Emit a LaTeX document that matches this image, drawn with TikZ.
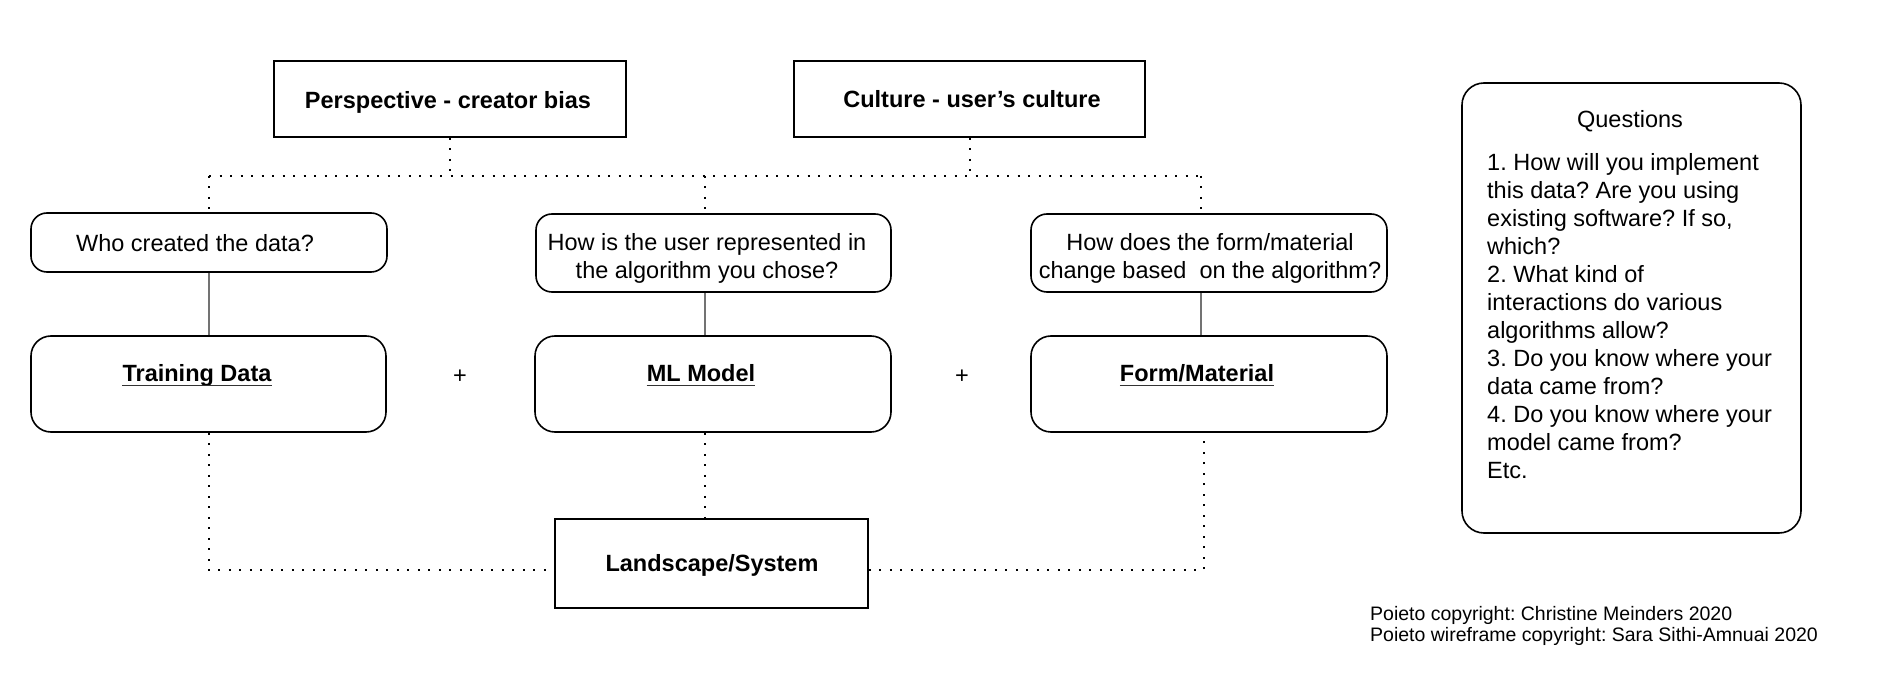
\documentclass[tikz,border=0pt]{standalone}
\usepackage{fontspec}
\setmainfont{Liberation Sans}
\frenchspacing
\begin{document}
\begin{tikzpicture}[x=1pt,y=-1pt,
  frame/.style={draw=black, line width=1.6pt, inner sep=0pt},
  sqbox/.style={frame},
  rbox/.style={frame, rounded corners=16pt},
  mbox/.style={frame, rounded corners=20pt},
  txt/.style={font=\fontsize{23.5}{28}\selectfont, inner sep=0pt, text=black},
  btxt/.style={font=\fontsize{23.5}{28}\selectfont\bfseries, inner sep=0pt, text=black},
  ctxt/.style={font=\fontsize{19.5}{21.5}\selectfont, inner sep=0pt, text=black},
  dotline/.style={line width=2pt, dash pattern=on 2pt off 8.5pt},
  solidline/.style={draw=black!55, line width=1.6pt},
  ul/.style={draw=black!80, line width=1.4pt},
]
\fill[white] (0,0) rectangle (1883,692);
\useasboundingbox (0,0) rectangle (1883,692);

% top boxes
\node[sqbox, minimum width=352pt, minimum height=76pt] (persp) at (450,99) {};
\node[btxt, anchor=base] (persptxt) at (448,109) {Perspective - creator bias};
\node[sqbox, minimum width=351pt, minimum height=76pt] (cult) at (969.5,99) {};
\node[btxt, anchor=base] (culttxt) at (972,108) {Culture - user’s culture};

% question boxes
\node[rbox, minimum width=356pt, minimum height=59pt] (qwho) at (209,242.5) {};
\node[txt, anchor=base] (qwhotxt) at (195,251.5) {Who created the data?};
\node[rbox, minimum width=355pt, minimum height=78pt] (quser) at (713.5,253) {};
\node[txt, align=center] (qusertxt) at (707,258.5) {How is the user represented in\\the algorithm you chose?};
\node[rbox, minimum width=356pt, minimum height=78pt] (qform) at (1209,253) {};
\node[txt, align=center] (qformtxt) at (1210,258.5) {How does the form/material\\change based\ \ on the algorithm?};

% main boxes
\node[mbox, minimum width=355pt, minimum height=96pt] (train) at (208.5,384) {};
\node[btxt, anchor=base] (traintxt) at (197,382) {Training Data};
\node[mbox, minimum width=356pt, minimum height=96pt] (ml) at (713,384) {};
\node[btxt, anchor=base] (mltxt) at (701,382) {ML Model};
\node[mbox, minimum width=356pt, minimum height=96pt] (fm) at (1209,384) {};
\node[btxt, anchor=base] (fmtxt) at (1197,382) {Form/Material};

\draw[ul] ([yshift=-3.5pt]traintxt.base west) -- ([yshift=-3.5pt]traintxt.base east);
\draw[ul] ([yshift=-3.5pt]mltxt.base west) -- ([yshift=-3.5pt]mltxt.base east);
\draw[ul] ([yshift=-3.5pt]fmtxt.base west) -- ([yshift=-3.5pt]fmtxt.base east);

\node[txt] (plus1) at (460,377) {+};
\node[txt] (plus2) at (962,377) {+};

% landscape
\node[sqbox, minimum width=313pt, minimum height=89pt] (land) at (711.5,563.5) {};
\node[btxt, anchor=base] (landtxt) at (712,571) {Landscape/System};

% questions panel
\node[frame, rounded corners=22pt, minimum width=339pt, minimum height=450pt] (qpanel) at (1631.5,308) {};
\node[txt] (qtitle) at (1630,121) {Questions};
\node[txt, anchor=north west, align=left] (qbody) at (1487,153.5) {1. How will you implement\\this data? Are you using\\existing software? If so,\\which?\\2. What kind of\\interactions do various\\algorithms allow?\\3. Do you know where your\\data came from?\\4. Do you know where your\\model came from?\\Etc.};

% copyright
\node[ctxt, anchor=west, align=left] (copy) at (1370,626) {Poieto copyright: Christine Meinders 2020\\Poieto wireframe copyright: Sara Sithi-Amnuai 2020};

% junction coordinates
\coordinate (hl) at (209,176);
\coordinate (hr) at (1201,176);
\coordinate (mx) at (705,176);
\coordinate (by) at (0,570);
\coordinate (rx) at (1204,570);

% dotted top tree
\draw[dotline] (hl) -- (hr);
\draw[dotline] (persp.south) -- (persp.south |- hl);
\draw[dotline] (cult.south) -- (cult.south |- hl);
\draw[dotline] (hl) -- (qwho.north -| hl);
\draw[dotline] (mx) -- (quser.north -| mx);
\draw[dotline] (hr) -- (qform.north -| hr);

% solid links
\draw[solidline] (qwho.south) -- (qwho.south |- train.north);
\draw[solidline] (quser.south -| mx) -- (ml.north -| mx);
\draw[solidline] (qform.south -| hr) -- (fm.north -| hr);

% dotted bottom
\draw[dotline] (train.south) -- (train.south |- by) -- (land.west |- by);
\draw[dotline] (ml.south -| mx) -- (land.north -| mx);
\draw[dotline] (land.east |- by) -- (rx) -- (fm.south -| rx);
\end{tikzpicture}
\end{document}
